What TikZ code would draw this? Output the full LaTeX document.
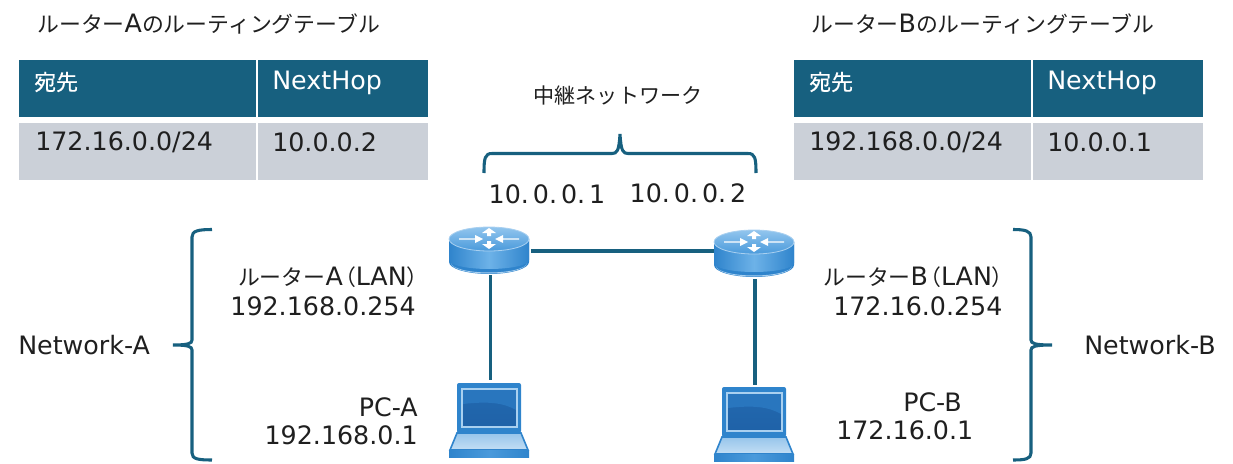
\documentclass[tikz,border=0pt]{standalone}
\usepackage{fontspec}
\setmainfont{Noto Sans CJK JP}
\newfontfamily\jpp[RawFeature=+palt]{Noto Sans CJK JP}
\newfontfamily\jpm[FakeBold=0.6]{Noto Sans CJK JP}
\newfontfamily\lat{DejaVu Sans}
\newfontfamily\latsp[WordSpace=0.4]{DejaVu Sans}
\newcommand{\La}[1]{{\lat\fontsize{19pt}{22pt}\selectfont #1}}
\newcommand{\Ls}[1]{{\latsp\fontsize{19pt}{22pt}\selectfont #1}}
\definecolor{teal1}{HTML}{17607F}
\definecolor{cellg}{HTML}{CBD0D8}
\definecolor{blueD}{HTML}{2F84CC}
\definecolor{blueM}{HTML}{4A9ADB}
\definecolor{blueL}{HTML}{6DB2E8}
\definecolor{blueS}{HTML}{1F62A8}
\definecolor{blueP}{HTML}{A9D0F0}
\tikzset{
 x=0.75pt,y=-0.75pt,
 lbl/.style={font=\fontsize{16.4pt}{20pt}\selectfont,text=black!88,inner sep=0,align=right},
 hdr/.style={fill=teal1,draw=none,minimum height=42.75pt,inner sep=0},
 cellb/.style={fill=cellg,draw=none,minimum height=42.75pt,inner sep=0},
 wire/.style={draw=teal1,line width=2.6pt},
 brace/.style={draw=teal1,line width=2.3pt},
 routerbox/.style={inner sep=0,minimum width=60pt,minimum height=36pt},
 laptopbox/.style={inner sep=0,minimum width=60pt,minimum height=55.5pt},
}
\newcommand{\routerart}[2]{%
 \begin{scope}[shift={(#1,#2)}]
  \fill[blueD] (-40,0) -- (-40,23) arc[x radius=40,y radius=12,start angle=180,end angle=0] -- (40,0) -- cycle;
  \fill[blueP] (-38,24) arc[x radius=38,y radius=10.5,start angle=180,end angle=0] arc[x radius=38,y radius=9.5,start angle=0,end angle=180] -- cycle;
  \shade[left color=blueD,right color=blueD,middle color=blueL] (-40,0) -- (-40,21) arc[x radius=40,y radius=9,start angle=180,end angle=0] -- (40,0) -- cycle;
  \shade[top color=blueL!75!white,bottom color=blueM,draw=blueP,line width=.6pt] (0,0) ellipse[x radius=40,y radius=12];
  \fill[white] (-2,-3) -- (2,-3) -- (2,-6) -- (7,-6) -- (0,-11) -- (-7,-6) -- (-2,-6) -- cycle;
  \fill[white] (-2,2) -- (2,2) -- (2,5) -- (7,5) -- (0,10) -- (-7,5) -- (-2,5) -- cycle;
  \fill[white] (-30,-.7) -- (-14,-.7) -- (-14,-4) -- (-6,0) -- (-14,4) -- (-14,.7) -- (-30,.7) -- cycle;
  \fill[white] (30,-.7) -- (14,-.7) -- (14,-4) -- (6,0) -- (14,4) -- (14,.7) -- (30,.7) -- cycle;
 \end{scope}}
\newcommand{\laptopart}[2]{%
 \begin{scope}[shift={(#1,#2)}]
  \fill[blueD,rounded corners=1.5pt] (-32,-37) rectangle (32,13);
  \shade[top color=blueS!80!blueD,bottom color=blueS] (-27,-31) rectangle (28,7);
  \fill[blueD!60!blueS] (-26,-30) -- (27,-30) -- (27,-10) .. controls (15,-17) and (0,-19) .. (-26,-16) -- cycle;
  \draw[blueP,line width=1.2pt] (-27,-31) rectangle (28,7);
  \shade[top color=blueP!85!blueD,bottom color=blueP!70!white,draw=blueD,line width=1.2pt] (-32,13) -- (32,13) -- (39,30) -- (-39,30) -- cycle;
  \shade[left color=blueD,right color=blueD,middle color=blueM] (-40,30.5) rectangle (40,37);
 \end{scope}}
\begin{document}
\begin{tikzpicture}
\useasboundingbox (0,0) rectangle (1233,464);
% device nodes
\node[routerbox] (ra) at (490.5,251) {};
\node[routerbox] (rb) at (755,255) {};
\node[laptopbox] (pa) at (490.5,420) {};
\node[laptopbox] (pb) at (755,424) {};
% wires
\draw[wire] (ra.east) -- (rb.west |- ra.east);
\draw[wire,shorten >=2.2pt] (ra.south) -- (pa.north);
\draw[wire,shorten >=1.5pt] (rb.south) -- (pb.north);
\routerart{489}{239}
\routerart{754}{242}
\laptopart{489}{420}
\laptopart{754}{424}
% titles
\node[lbl,anchor=west] (ta) at (37,24) {ルーター\La{A}のルーティングテーブル};
\node[lbl,anchor=west] (tb) at (811,24) {ルーター\La{B}のルーティングテーブル};
% table A
\node[hdr,minimum width=177.75pt,anchor=north west] (a11) at (19,60) {};
\node[hdr,minimum width=127.5pt,anchor=north west] (a12) at (258,60) {};
\node[cellb,minimum width=177.75pt,anchor=north west] (a21) at (19,123) {};
\node[cellb,minimum width=127.5pt,anchor=north west] (a22) at (258,123) {};
\node[lbl,text=white,anchor=west] at (34,82) {\jpm 宛先};
\node[lbl,text=white,anchor=west] at (272,83) {\La{NextHop}};
\node[lbl,anchor=west] at (35,142) {\La{172.16.0.0/24}};
\node[lbl,anchor=west] at (272,142) {\La{10.0.0.2}};
% table B
\node[hdr,minimum width=177.75pt,anchor=north west] (b11) at (794,60) {};
\node[hdr,minimum width=127.5pt,anchor=north west] (b12) at (1033,60) {};
\node[cellb,minimum width=177.75pt,anchor=north west] (b21) at (794,123) {};
\node[cellb,minimum width=127.5pt,anchor=north west] (b22) at (1033,123) {};
\node[lbl,text=white,anchor=west] at (809,82) {\jpm 宛先};
\node[lbl,text=white,anchor=west] at (1047,83) {\La{NextHop}};
\node[lbl,anchor=west] at (809,142) {\La{192.168.0.0/24}};
\node[lbl,anchor=west] at (1047,142) {\La{10.0.0.1}};
% transit
\node[lbl,anchor=center,font=\fontsize{15.8pt}{20pt}\selectfont] at (618,95) {中継ネットワーク};
\node[lbl,anchor=center] at (547,194) {\Ls{10. 0. 0. 1}};
\node[lbl,anchor=center] at (688,193) {\Ls{10. 0. 0. 2}};
% braces
\draw[brace] (484,173) .. controls (484,158) and (485,153.5) .. (492,153.5) -- (612,153.5) .. controls (617,153.5) and (619,151) .. (620,134) .. controls (621,151) and (623,153.5) .. (628,153.5) -- (748,153.5) .. controls (755,153.5) and (756,158) .. (756,173);
\draw[brace] (212,229.5) .. controls (198,229.5) and (192,231) .. (192,237) -- (192,340) .. controls (192,343.5) and (188,345) .. (173,345) .. controls (188,345) and (192,346.5) .. (192,350) -- (192,453) .. controls (192,459) and (198,460) .. (212,460);
\draw[brace] (1013,229.5) .. controls (1025,229.5) and (1031,231) .. (1031,237) -- (1031,340) .. controls (1031,343.5) and (1035,345) .. (1052,345) .. controls (1035,345) and (1031,346.5) .. (1031,350) -- (1031,453) .. controls (1031,459) and (1025,460) .. (1013,460);
% labels
\node[lbl,anchor=east] at (418,277) {ルーター\La{A}\hspace{1.5pt}{\jpp （}\La{LAN}{\jpp ）}};
\node[lbl,anchor=east] at (416,306) {\La{192.168.0.254}};
\node[lbl,anchor=east] at (418,407) {\La{PC-A}};
\node[lbl,anchor=east] at (418,435) {\La{192.168.0.1}};
\node[lbl,anchor=west] at (823,277) {ルーター\La{B}\hspace{1.5pt}{\jpp （}\La{LAN}{\jpp ）}};
\node[lbl,anchor=west] at (833,306) {\La{172.16.0.254}};
\node[lbl,anchor=west] at (903,402) {\La{PC-B}};
\node[lbl,anchor=west] at (836,430) {\La{172.16.0.1}};
\node[lbl,anchor=west] at (18,345) {\La{Network-A}};
\node[lbl,anchor=west] at (1084,345) {\La{Network-B}};
\end{tikzpicture}
\end{document}
